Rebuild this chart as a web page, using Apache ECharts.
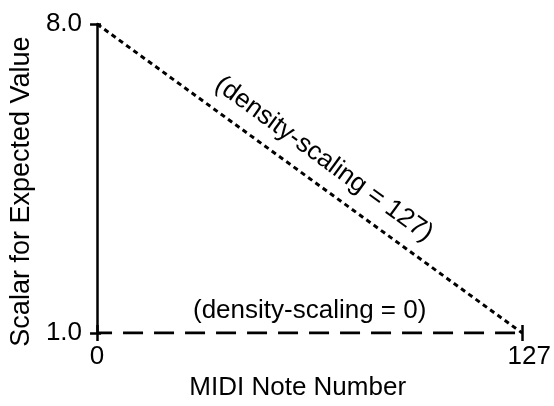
<!DOCTYPE html>
<html>
<head>
<meta charset="utf-8">
<script src="https://cdn.jsdelivr.net/npm/echarts@6/dist/echarts.min.js"></script>
<style>
html,body{margin:0;padding:0;background:#fff;}
#chart{width:554px;height:406px;}
</style>
</head>
<body>
<div id="chart"></div>
<script>
// ---- data ----
const xValues = [0, 127];
const densityZero = [1.0, 1.0];      // (density-scaling = 0)
const densityMax = [8.0, 1.0];       // (density-scaling = 127)
const seriesNames = ['(density-scaling = 0)', '(density-scaling = 127)'];
const xTickValues = [0, 127];
const yTickValues = [1.0, 8.0];
const xAxisTitle = 'MIDI Note Number';
const yAxisTitle = 'Scalar for Expected Value';

const FONT = 'Liberation Sans, Arial, Helvetica, sans-serif';
const FS = 26;

const chart = echarts.init(document.getElementById('chart'), null, {renderer: 'canvas'});

function pairs(ys) { return xValues.map((x, i) => [x, ys[i]]); }

const xMin = xTickValues[0], xMax = xTickValues[xTickValues.length - 1];
const yMin = yTickValues[0], yMax = yTickValues[yTickValues.length - 1];

const hiddenLine = {color: 'rgba(0,0,0,0)', width: 1, type: 'solid'};

const option = {
  animation: false,
  backgroundColor: '#fff',
  grid: {left: 96, right: 28, top: 24, bottom: 62},
  xAxis: [{
    type: 'value', min: xMin, max: xMax, interval: xMax - xMin,
    axisLine: {show: false},
    axisTick: {show: true, length: 8, lineStyle: {color: '#000', width: 2.5}},
    splitLine: {show: false},
    axisLabel: {
      margin: 11, color: '#000', fontFamily: FONT, fontSize: FS,
      formatter: v => v === xMax ? '{r|' + v + '}' : String(v),
      rich: {r: {fontFamily: FONT, fontSize: FS, color: '#000', padding: [0, 0, 0, 14]}}
    },
    name: xAxisTitle, nameLocation: 'middle', nameGap: 34,
    nameTextStyle: {color: '#000', fontFamily: FONT, fontSize: FS, padding: [0, 24, 0, 0]}
  }, {
    type: 'value', min: xMin, max: xMax, interval: xMax - xMin, position: 'bottom',
    axisLine: {show: false},
    axisTick: {show: true, inside: true, length: 8, lineStyle: {color: '#000', width: 2.5}},
    axisLabel: {show: false}, splitLine: {show: false}
  }],
  yAxis: [{
    type: 'value', min: yMin, max: yMax, interval: yMax - yMin, position: 'left',
    axisLine: {show: true, lineStyle: {color: '#000', width: 2.5}},
    axisTick: {show: true, length: 7, lineStyle: {color: '#000', width: 2.5}},
    splitLine: {show: false},
    axisLabel: {margin: 15, color: '#000', fontFamily: FONT, fontSize: FS, formatter: v => v.toFixed(1)},
    name: yAxisTitle, nameLocation: 'middle', nameGap: 61,
    nameTextStyle: {color: '#000', fontFamily: FONT, fontSize: 27, padding: [0, 26, 0, 0]}
  }, {
    type: 'value', min: yMin, max: yMax, interval: yMax - yMin, position: 'left',
    axisLine: {show: false},
    axisTick: {show: true, inside: true, length: 4, lineStyle: {color: '#000', width: 2.5}},
    axisLabel: {show: false}, splitLine: {show: false}
  }],
  series: [{
    name: seriesNames[0], type: 'line', xAxisIndex: 0, yAxisIndex: 0,
    data: pairs(densityZero), symbol: 'none', z: 3,
    lineStyle: {color: '#000', width: 3, type: [20, 11], dashOffset: 5},
    markLine: {
      silent: true, symbol: 'none',
      lineStyle: hiddenLine,
      label: {show: true, position: 'insideMiddleTop', distance: 9, formatter: seriesNames[0],
        color: '#000', fontFamily: FONT, fontSize: FS},
      data: [[{coord: [xValues[0], densityZero[0]]}, {coord: [xValues[1], densityZero[1]]}]]
    }
  }, {
    name: seriesNames[1], type: 'line', xAxisIndex: 0, yAxisIndex: 0,
    data: pairs(densityMax), symbol: 'none', z: 3,
    lineStyle: {color: '#000', width: 3, type: [5, 4]},
    markLine: {
      silent: true, symbol: 'none',
      lineStyle: hiddenLine,
      label: {show: true, position: 'insideMiddleTop', distance: 11, formatter: seriesNames[1],
        color: '#000', fontFamily: FONT, fontSize: FS},
      data: [[{coord: [xValues[0], densityMax[0]]}, {coord: [xValues[1], densityMax[1]]}]]
    }
  }]
};
chart.setOption(option);
</script>
</body>
</html>
